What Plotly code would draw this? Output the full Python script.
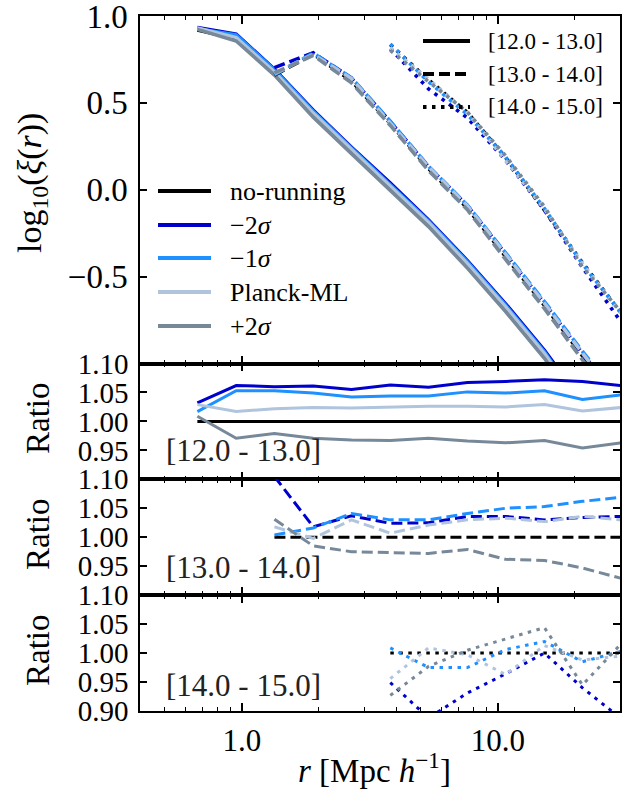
import plotly.graph_objects as go
from plotly.subplots import make_subplots

# ---------------- data ----------------
r_bin12 = [0.67, 0.95, 1.34, 1.9, 2.68, 3.8, 5.36, 7.6, 10.7, 15.2, 21.4, 30.3]
r_bin13 = [1.34, 1.9, 2.68, 3.8, 5.36, 7.6, 10.7, 15.2, 21.4, 30.3]
r_bin14 = [3.8, 5.36, 7.6, 10.7, 15.2, 21.4, 30.3]

cosmo_names = ["no-running", "\u22122<i>\u03c3</i>", "\u22121<i>\u03c3</i>", "Planck-ML", "+2<i>\u03c3</i>"]
bin_names = ["[12.0 - 13.0]", "[13.0 - 14.0]", "[14.0 - 15.0]"]

# log10(xi(r)) -- mass bin [12.0 - 13.0]
xi12_norun = [0.919, 0.869, 0.669, 0.431, 0.222, 0.012, -0.199, -0.436, -0.684, -0.955, -1.25, -1.584]
xi12_m2 = [0.933, 0.895, 0.694, 0.457, 0.245, 0.039, -0.174, -0.408, -0.655, -0.925, -1.221, -1.558]
xi12_m1 = [0.926, 0.891, 0.691, 0.452, 0.240, 0.031, -0.180, -0.414, -0.663, -0.933, -1.234, -1.565]
xi12_pl = [0.931, 0.876, 0.678, 0.441, 0.232, 0.023, -0.188, -0.425, -0.673, -0.943, -1.242, -1.574]
xi12_p2 = [0.923, 0.856, 0.660, 0.418, 0.208, -0.003, -0.212, -0.451, -0.700, -0.970, -1.270, -1.600]

# log10(xi(r)) -- mass bin [13.0 - 14.0]
xi13_norun = [0.660, 0.780, 0.626, 0.381, 0.122, -0.106, -0.383, -0.666, -0.956, -1.238]
xi13_m2 = [0.703, 0.788, 0.642, 0.391, 0.133, -0.091, -0.368, -0.653, -0.942, -1.223]
xi13_m1 = [0.662, 0.787, 0.644, 0.394, 0.135, -0.089, -0.362, -0.644, -0.930, -1.209]
xi13_pl = [0.668, 0.779, 0.639, 0.384, 0.131, -0.093, -0.369, -0.654, -0.941, -1.225]
xi13_p2 = [0.673, 0.773, 0.615, 0.370, 0.110, -0.115, -0.400, -0.684, -0.980, -1.270]

# log10(xi(r)) -- mass bin [14.0 - 15.0]
xi14_norun = [0.835, 0.632, 0.445, 0.187, -0.117, -0.420, -0.710]
xi14_m2 = [0.812, 0.580, 0.414, 0.171, -0.117, -0.447, -0.762]
xi14_m1 = [0.839, 0.621, 0.434, 0.190, -0.108, -0.427, -0.709]
xi14_pl = [0.816, 0.636, 0.444, 0.171, -0.111, -0.425, -0.712]
xi14_p2 = [0.802, 0.622, 0.447, 0.197, -0.098, -0.445, -0.703]

# ratios to no-running -- [12.0 - 13.0]
ratio12_norun = [1.0] * 12
ratio12_m2 = [1.032, 1.062, 1.060, 1.061, 1.055, 1.063, 1.059, 1.067, 1.069, 1.072, 1.069, 1.062]
ratio12_m1 = [1.017, 1.053, 1.053, 1.049, 1.042, 1.044, 1.044, 1.051, 1.049, 1.053, 1.038, 1.046]
ratio12_pl = [1.029, 1.017, 1.022, 1.024, 1.023, 1.025, 1.026, 1.026, 1.025, 1.029, 1.018, 1.024]
ratio12_p2 = [1.009, 0.971, 0.979, 0.971, 0.968, 0.967, 0.971, 0.966, 0.963, 0.967, 0.954, 0.963]

# ratios -- [13.0 - 14.0]
ratio13_norun = [1.0] * 10
ratio13_m2 = [1.105, 1.018, 1.037, 1.024, 1.025, 1.036, 1.036, 1.030, 1.034, 1.036]
ratio13_m1 = [1.004, 1.016, 1.041, 1.030, 1.030, 1.041, 1.050, 1.053, 1.062, 1.069]
ratio13_pl = [1.018, 0.998, 1.030, 1.007, 1.021, 1.030, 1.033, 1.027, 1.036, 1.030]
ratio13_p2 = [1.031, 0.985, 0.975, 0.974, 0.972, 0.979, 0.962, 0.960, 0.947, 0.929]

# ratios -- [14.0 - 15.0]
ratio14_norun = [1.0] * 7
ratio14_m2 = [0.949, 0.888, 0.931, 0.964, 1.000, 0.940, 0.887]
ratio14_m1 = [1.009, 0.975, 0.975, 1.006, 1.020, 0.985, 1.003]
ratio14_pl = [0.956, 1.009, 0.997, 0.963, 1.013, 0.988, 0.995]
ratio14_p2 = [0.927, 0.977, 1.005, 1.024, 1.044, 0.945, 1.016]

x_tickvals = [1, 10]
x_ticktext = ["1.0", "10.0"]
x_minorvals = [0.4, 0.5, 0.6, 0.7, 0.8, 0.9, 2, 3, 4, 5, 6, 7, 8, 9, 20, 30]
top_tickvals = [-0.5, 0.0, 0.5, 1.0]
top_ticktext = ["\u22120.5", "0.0", "0.5", "1.0"]
ratio_tickvals = [0.95, 1.00, 1.05, 1.10]
ratio_ticktext = ["0.95", "1.00", "1.05", "1.10"]
ratio_tickvals_last = [0.90, 0.95, 1.00, 1.05, 1.10]
ratio_ticktext_last = ["0.90", "0.95", "1.00", "1.05", "1.10"]

# ---------------- style ----------------
colors = ["#000000", "#0000CD", "#1E90FF", "#B0C4DE", "#778899"]
dashes = ["solid", "11px,5px", "3.5px,5.5px"]
FONT = "Liberation Serif"

W, H = 636, 794
L, R, T, B = 140, 16, 16, 83


def px(xp):
    return (xp - L) / (W - L - R)


def py(yp):
    return (H - B - yp) / (H - T - B)


fig = make_subplots(rows=4, cols=1, shared_xaxes=True, vertical_spacing=0,
                    row_heights=[3, 1, 1, 1])

top_sets = [
    (r_bin12, [xi12_norun, xi12_m2, xi12_m1, xi12_pl, xi12_p2]),
    (r_bin13, [xi13_norun, xi13_m2, xi13_m1, xi13_pl, xi13_p2]),
    (r_bin14, [xi14_norun, xi14_m2, xi14_m1, xi14_pl, xi14_p2]),
]
ratio_sets = [
    (r_bin12, [ratio12_norun, ratio12_m2, ratio12_m1, ratio12_pl, ratio12_p2]),
    (r_bin13, [ratio13_norun, ratio13_m2, ratio13_m1, ratio13_pl, ratio13_p2]),
    (r_bin14, [ratio14_norun, ratio14_m2, ratio14_m1, ratio14_pl, ratio14_p2]),
]

for b, (rr, series) in enumerate(top_sets):
    for c, ys in enumerate(series):
        fig.add_trace(go.Scatter(x=rr, y=ys, mode="lines", showlegend=False,
                                 name=cosmo_names[c] + " " + bin_names[b],
                                 line=dict(color=colors[c], width=3.6, dash=dashes[b])),
                      row=1, col=1)

for b, (rr, series) in enumerate(ratio_sets):
    for c, ys in enumerate(series):
        fig.add_trace(go.Scatter(x=rr, y=ys, mode="lines", showlegend=False,
                                 name=cosmo_names[c] + " ratio " + bin_names[b],
                                 line=dict(color=colors[c], width=3, dash=dashes[b])),
                      row=b + 2, col=1)

axis_common = dict(showline=True, linecolor="black", linewidth=1.5, mirror="ticks",
                   ticks="inside", tickwidth=1.5, tickcolor="black",
                   showgrid=False, zeroline=False, automargin=False,
                   ticklabeloverflow="allow")

for i in range(1, 5):
    fig.update_xaxes(type="log", range=[-0.398, 1.477], ticklen=8,
                     tickmode="array", tickvals=x_tickvals, ticktext=x_ticktext,
                     minor=dict(ticks="inside", ticklen=4, tickwidth=1.2, tickcolor="black",
                                tickmode="array", tickvals=x_minorvals, showgrid=False),
                     tickfont=dict(family=FONT, size=31, color="black"),
                     ticklabelstandoff=1,
                     row=i, col=1, **axis_common)

fig.update_yaxes(range=[-1.0, 1.0], tickmode="array", tickvals=top_tickvals,
                 ticktext=top_ticktext, ticklen=7, ticklabelstandoff=4,
                 tickfont=dict(family=FONT, size=33, color="black"),
                 row=1, col=1, **axis_common)
for i in (2, 3):
    fig.update_yaxes(range=[0.9, 1.1], tickmode="array", tickvals=ratio_tickvals,
                     ticktext=ratio_ticktext, ticklen=7, ticklabelstandoff=4,
                     tickfont=dict(family=FONT, size=29, color="black"),
                     row=i, col=1, **axis_common)
fig.update_yaxes(range=[0.9, 1.1], tickmode="array", tickvals=ratio_tickvals_last,
                 ticktext=ratio_ticktext_last, ticklen=7, ticklabelstandoff=4,
                 tickfont=dict(family=FONT, size=29, color="black"),
                 row=4, col=1, **axis_common)

shapes = []
annotations = []

# legend of cosmologies (left)
leg1_y = [191, 225, 258, 292, 326]
for c in range(5):
    shapes.append(dict(type="line", xref="paper", yref="paper",
                       x0=px(158), x1=px(211), y0=py(leg1_y[c]), y1=py(leg1_y[c]),
                       line=dict(color=colors[c], width=4)))
    annotations.append(dict(text=cosmo_names[c], xref="paper", yref="paper",
                            x=px(228), y=py(leg1_y[c]), xanchor="left", yanchor="middle",
                            showarrow=False, font=dict(family=FONT, size=26, color="black")))

# legend of mass bins (top right)
leg2_y = [41, 74, 107]
for b in range(3):
    shapes.append(dict(type="line", xref="paper", yref="paper",
                       x0=px(423), x1=px(470), y0=py(leg2_y[b]), y1=py(leg2_y[b]),
                       line=dict(color="black", width=4, dash=dashes[b])))
    annotations.append(dict(text=bin_names[b], xref="paper", yref="paper",
                            x=px(486), y=py(leg2_y[b]), xanchor="left", yanchor="middle",
                            showarrow=False, font=dict(family=FONT, size=23, color="black")))

# panel labels
for b, yc in enumerate([450, 567, 685]):
    annotations.append(dict(text=bin_names[b], xref="paper", yref="paper",
                            x=px(164), y=py(yc), xanchor="left", yanchor="middle",
                            showarrow=False, font=dict(family=FONT, size=31, color="#222222")))

# axis titles
annotations.append(dict(text="log<sub>10</sub>(<i>\u03be</i>(<i>r</i>))", xref="paper", yref="paper",
                        x=px(32), y=py(183), xanchor="center", yanchor="middle", textangle=-90,
                        showarrow=False, font=dict(family=FONT, size=34, color="black")))
for yc in [418, 534, 650]:
    annotations.append(dict(text="Ratio", xref="paper", yref="paper",
                            x=px(38), y=py(yc), xanchor="center", yanchor="middle", textangle=-90,
                            showarrow=False, font=dict(family=FONT, size=33, color="black")))
annotations.append(dict(text="<i>r</i> [Mpc <i>h</i><sup>\u22121</sup>]", xref="paper", yref="paper",
                        x=px(296), y=py(768), xanchor="left", yanchor="middle",
                        showarrow=False, font=dict(family=FONT, size=33, color="black")))

fig.update_layout(width=W, height=H, margin=dict(l=L, r=R, t=T, b=B, autoexpand=False),
                  paper_bgcolor="white", plot_bgcolor="white",
                  showlegend=False, shapes=shapes, annotations=annotations,
                  font=dict(family=FONT, color="black"))

fig.write_html("out.html", config={"displayModeBar": False},
               post_script="document.body.style.margin='0px';document.body.style.overflow='hidden';")
